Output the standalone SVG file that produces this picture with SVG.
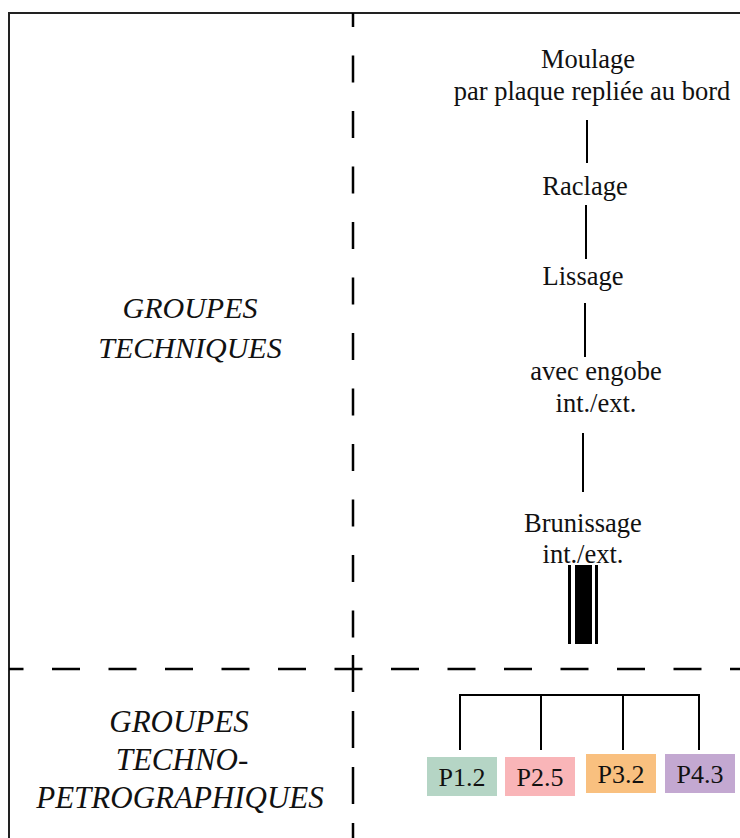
<svg xmlns="http://www.w3.org/2000/svg" width="740" height="838" viewBox="0 0 740 838">
<style>
.border{stroke:#222;stroke-width:2;fill:none}
.dash{stroke:#000;stroke-width:2.5;fill:none}
.conn{stroke:#000;stroke-width:2;fill:none}
text{font-family:'Liberation Serif','DejaVu Serif',serif;fill:#111;text-anchor:middle}
.t{font-size:26.5px}
.h{font-style:italic;font-size:30px}
.h2{font-style:italic;font-size:31px}
.bx{font-size:26px}
</style>
<rect x="0" y="0" width="740" height="838" fill="#ffffff"/>
<g id="frame">
<path class="border" d="M9,838 V13 H740"/>
<line class="dash" x1="353" y1="13" x2="353" y2="650" stroke-dasharray="27 28.5" stroke-dashoffset="13"/>
<line class="dash" x1="353" y1="655" x2="353" y2="838" stroke-dasharray="37 19"/>
<line class="dash" x1="9" y1="669" x2="740" y2="669" stroke-dasharray="28 28.5" stroke-dashoffset="13.5"/>
</g>
<g id="label-techniques">
<text class="h" x="190" y="318">GROUPES</text>
<text class="h" x="190" y="358">TECHNIQUES</text>
</g>
<g id="label-petro">
<text class="h2" x="179" y="732">GROUPES</text>
<text class="h2" x="182" y="770">TECHNO-</text>
<text class="h2" x="180" y="808">PETROGRAPHIQUES</text>
</g>
<g id="n-moulage"><text class="t" x="588" y="68">Moulage</text><text class="t" x="592" y="100">par plaque repliée au bord</text></g>
<g id="n-raclage"><text class="t" x="585" y="195">Raclage</text></g>
<g id="n-lissage"><text class="t" x="583" y="285">Lissage</text></g>
<g id="n-engobe"><text class="t" x="596" y="380">avec engobe</text><text class="t" x="596" y="412">int./ext.</text></g>
<g id="n-brunissage"><text class="t" x="583" y="532">Brunissage</text><text class="t" x="583" y="563">int./ext.</text></g>
<g id="n-bar">
<rect x="568" y="565" width="3" height="79" fill="#000"/>
<rect x="575" y="565" width="17" height="79" fill="#000"/>
<rect x="595" y="565" width="3" height="79" fill="#000"/>
</g>
<g id="n-p12"><rect x="427" y="757" width="70" height="39" fill="#b5d5c5"/><text class="bx" x="462" y="786">P1.2</text></g>
<g id="n-p25"><rect x="505" y="757" width="70" height="39" fill="#f9b5b8"/><text class="bx" x="540" y="786">P2.5</text></g>
<g id="n-p32"><rect x="586" y="754" width="70" height="39" fill="#f9c07f"/><text class="bx" x="621" y="783">P3.2</text></g>
<g id="n-p43"><rect x="665" y="754" width="70" height="39" fill="#c3a8d1"/><text class="bx" x="700" y="783">P4.3</text></g>
<g id="connectors">
<line class="conn" x1="587" y1="120" x2="587" y2="163"/>
<line class="conn" x1="586" y1="205" x2="586" y2="259"/>
<line class="conn" x1="585" y1="303" x2="585" y2="357"/>
<line class="conn" x1="583" y1="433" x2="583" y2="492"/>
<path class="conn" d="M460,750 V695 H699 V750 M541,695 V750 M623,695 V750"/>
</g>
</svg>
